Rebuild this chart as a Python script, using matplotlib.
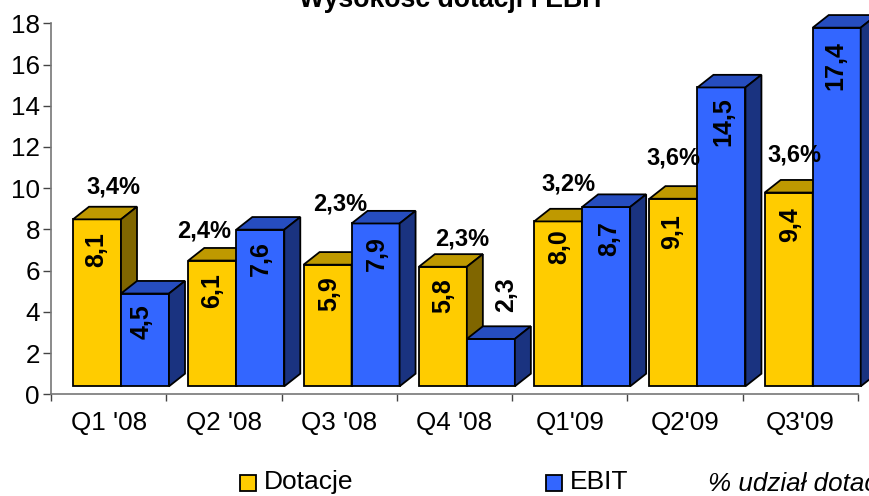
import matplotlib
matplotlib.use('Agg')
import matplotlib.pyplot as plt

plt.rcParams['font.family'] = ['Liberation Sans', 'DejaVu Sans']

# Values
quarters = ["Q1 '08", "Q2 '08", "Q3 '08", "Q4 '08", "Q1'09", "Q2'09", "Q3'09"]
dotacje = [8.1, 6.1, 5.9, 5.8, 8.0, 9.1, 9.4]
ebit = [4.5, 7.6, 7.9, 2.3, 8.7, 14.5, 17.4]
udzial = ['3,4%', '2,4%', '2,3%', '2,3%', '3,2%', '3,6%', '3,6%']

# Label offsets in pixels, from the middle top of each front face
dot_offset = [(-1, -30), (0, -30), (2, -29), (0, -29), (1, -25), (-1, -33), (1, -32)]
ebit_offset = [(-3, -28), (1, -29), (1, -30), (15, 44), (3, -32), (2, -34), (-1, -38)]
# Offsets of the percent labels, from the top of the yellow front face
pct_offset = [(16, 32), (-8, 30), (13, 61), (19, 28), (10, 37), (0, 41), (6, 38)]

FIG_W, FIG_H = 869, 496
LEFT, RIGHT, TOP, BOTTOM = 51, 858, 23.3, 394.3
PX_X = (RIGHT - LEFT) / 7
PX_Y = (BOTTOM - TOP) / 18

BAR_W = 48 / PX_X
START = 22 / PX_X
FLOOR = 8 / PX_Y
DEPTH_X = 16 / PX_X
DEPTH_Y = 12.6 / PX_Y
EDGE = 1.3


def draw_bar(ax, x, value, front, top, side):
    y0 = FLOOR
    y1 = FLOOR + value
    ax.bar(x, value, BAR_W, bottom=y0, align='edge', color=front,
           edgecolor='black', linewidth=EDGE, clip_on=False, zorder=3)
    ax.fill([x, x + DEPTH_X, x + BAR_W + DEPTH_X, x + BAR_W],
            [y1, y1 + DEPTH_Y, y1 + DEPTH_Y, y1],
            facecolor=top, edgecolor='black', linewidth=EDGE, clip_on=False, zorder=3)
    ax.fill([x + BAR_W, x + BAR_W + DEPTH_X, x + BAR_W + DEPTH_X, x + BAR_W],
            [y0, y0 + DEPTH_Y, y1 + DEPTH_Y, y1],
            facecolor=side, edgecolor='black', linewidth=EDGE, clip_on=False, zorder=3)


def label(ax, text, x, y, offset, rotation=0, size=17):
    ax.annotate(text, (x, y), xytext=offset, textcoords='offset pixels',
                ha='center', va='center', rotation=rotation, fontsize=size,
                fontweight='bold', color='black', zorder=5, annotation_clip=False)


fig = plt.figure(figsize=(FIG_W / 100, FIG_H / 100), dpi=100)
ax = fig.add_axes([LEFT / FIG_W, 1 - BOTTOM / FIG_H,
                   (RIGHT - LEFT) / FIG_W, (BOTTOM - TOP) / FIG_H])

for i in range(len(quarters)):
    x_dot = i + START
    x_ebit = x_dot + BAR_W
    draw_bar(ax, x_dot, dotacje[i], '#FFCC00', '#BF9900', '#806600')
    draw_bar(ax, x_ebit, ebit[i], '#3366FF', '#264DBF', '#1A3380')

for i in range(len(quarters)):
    x_dot = i + START
    x_ebit = x_dot + BAR_W
    label(ax, f'{dotacje[i]:.1f}'.replace('.', ','), x_dot + BAR_W / 2,
          FLOOR + dotacje[i], dot_offset[i], rotation=90, size=18)
    label(ax, f'{ebit[i]:.1f}'.replace('.', ','), x_ebit + BAR_W / 2,
          FLOOR + ebit[i], ebit_offset[i], rotation=90, size=18)
    label(ax, udzial[i], x_dot + BAR_W / 2, FLOOR + dotacje[i], pct_offset[i])

ax.set_xlim(0, 7)
ax.set_ylim(0, 18)
ax.set_yticks(range(0, 19, 2))
ax.set_xticks(range(0, 8))
ax.set_xticklabels([])
ax.set_xticks([i + 0.5 for i in range(7)], minor=True)
ax.set_xticklabels(quarters, minor=True)
ax.tick_params(axis='x', which='minor', length=0, pad=12, labelsize=18.7)
ax.tick_params(axis='x', which='major', length=5, width=1, color='#444444')
ax.tick_params(axis='y', length=6, width=1, color='#444444', labelsize=18.7, pad=2)

for name in ['top', 'right']:
    ax.spines[name].set_visible(False)
for name in ['left', 'bottom']:
    ax.spines[name].set_color('#777777')
    ax.spines[name].set_linewidth(1.2)

fig.text(452 / FIG_W, 1 - 7 / FIG_H, 'Wysokość dotacji i EBIT', ha='center',
         va='baseline', fontsize=19.2, fontweight='bold')

# Legend drawn by hand, the reference has it spread out along the bottom edge
for box_x, text_x, color, name in [(240, 264, '#FFCC00', 'Dotacje'),
                                   (546, 570, '#3366FF', 'EBIT')]:
    fig.patches.append(plt.Rectangle((box_x / FIG_W, 1 - 491 / FIG_H), 16 / FIG_W, 16 / FIG_H,
                                     transform=fig.transFigure, facecolor=color,
                                     edgecolor='black', linewidth=EDGE))
    fig.text(text_x / FIG_W, 1 - 489 / FIG_H, name, ha='left', va='baseline', fontsize=19)

fig.text(708 / FIG_W, 1 - 491 / FIG_H, '% udział dotacji', ha='left', va='baseline',
         fontsize=18.7, style='italic')

fig.savefig('out.png', dpi=100)
